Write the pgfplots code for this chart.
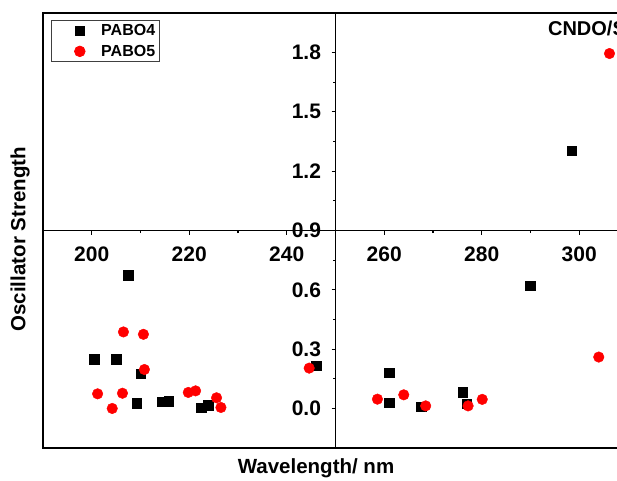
\documentclass[border=0pt]{standalone}
\usepackage{fontspec}
\setmainfont{Liberation Sans}
\usepackage{pgfplots}
\usepackage{pgfplotstable}
\pgfplotsset{compat=1.18}

\pgfplotstableread{
wl f
200.5 0.248
205.0 0.248
207.5 0.675
209.2 0.027
210.0 0.177
214.4 0.034
215.8 0.037
222.4 0.003
223.9 0.017
246.0 0.216
261.0 0.180
261.0 0.030
267.6 0.008
276.1 0.081
276.9 0.025
289.9 0.620
298.5 1.303
}\pabofour

\pgfplotstableread{
wl f
201.2 0.074
204.2 0.000
206.3 0.077
206.5 0.387
210.6 0.375
210.8 0.197
219.8 0.081
221.3 0.089
225.6 0.054
226.5 0.005
244.6 0.204
258.6 0.047
264.0 0.069
268.5 0.013
277.2 0.013
280.1 0.046
304.0 0.260
306.2 1.795
}\pabofive

\begin{document}
\begin{tikzpicture}
\useasboundingbox (-43pt,-32pt) rectangle (574pt,448pt);
% frame and axis titles
\begin{axis}[
  at={(0,0)}, anchor=south west,
  scale only axis, width=585pt, height=435pt,
  xmin=190, xmax=310, ymin=-0.2, ymax=2.0,
  xtick=\empty, ytick=\empty,
  axis line style={line width=1.1pt},
  xlabel={Wavelength/ nm},
  ylabel={Oscillator Strength},
  every axis x label/.style={at={(axis description cs:0.4667,-0.046)},anchor=center,
    font=\fontsize{20.5}{24}\selectfont\bfseries},
  every axis y label/.style={at={(axis description cs:-0.0393,0.48)},rotate=90,anchor=center,
    font=\fontsize{20.5}{24}\selectfont\bfseries},
]
\node[anchor=west,font=\fontsize{20}{24}\selectfont\bfseries,inner sep=0pt]
  at (axis description cs:0.863,0.9655) {CNDO/S};
\end{axis}
% crossing axes and data
\begin{axis}[
  at={(0,0)}, anchor=south west,
  scale only axis, width=585pt, height=435pt,
  xmin=190, xmax=310, ymin=-0.2, ymax=2.0,
  axis x line=bottom, axis y line=left,
  axis x line shift=-217.5pt, axis y line shift=-292.5pt,
  axis line style={-,line width=1.1pt},
  tick align=outside,
  xtick={200,220,240,260,280,300},
  ytick={0,0.3,0.6,0.9,1.2,1.5,1.8},
  minor x tick num=1, minor y tick num=1,
  major tick length=4pt, minor tick length=2.5pt,
  tick style={line width=1.1pt,black},
  /pgf/number format/assume math mode=true,
  ticklabel style={font=\fontsize{21}{25}\selectfont\bfseries},
  xticklabel style={yshift=-9pt},
  yticklabel style={xshift=-7pt,/pgf/number format/.cd,fixed,fixed zerofill,precision=1},
  legend cell align=left,
  legend image code/.code={
    \path (0pt,0pt) (45pt,0pt);
    \draw[#1] plot coordinates {(26pt,0pt)};
  },
  legend style={at={(axis description cs:0.0137,0.984)},anchor=north west,
    draw=darkgray,line width=0.8pt,font=\fontsize{16}{19}\selectfont\bfseries,
    row sep=4pt,inner ysep=2pt,inner xsep=2pt},
]
\addplot[only marks,mark=square*,mark size=4.75pt,black] table[x=wl,y=f] {\pabofour};
\addlegendentry{PABO4}
\addplot[only marks,mark=*,mark size=5.3pt,red,fill=red] table[x=wl,y=f] {\pabofive};
\addlegendentry{PABO5}
\end{axis}
\end{tikzpicture}
\end{document}
